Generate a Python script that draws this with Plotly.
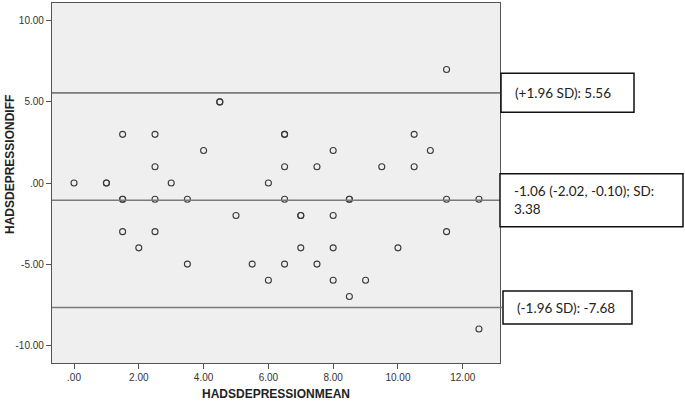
import plotly.graph_objects as go

# Bland-Altman data
mean_vals = [0, 1, 1, 1.5, 1.5, 1.5, 1.5, 2, 2.5, 2.5, 2.5, 2.5, 3, 3.5, 3.5, 4,
             4.5, 4.5, 5, 5.5, 6, 6, 6.5, 6.5, 6.5, 6.5, 6.5, 7, 7, 7, 7.5, 7.5,
             8, 8, 8, 8, 8.5, 8.5, 8.5, 9, 9.5, 10, 10.5, 10.5, 11, 11.5, 11.5,
             11.5, 12.5, 12.5]
diff_vals = [0, 0, 0, 3, -1, -1, -3, -4, 3, 1, -1, -3, 0, -1, -5, 2,
             5, 5, -2, -5, 0, -6, 3, 3, 1, -1, -5, -2, -2, -4, 1, -5,
             2, -2, -4, -6, -1, -1, -7, -6, 1, -4, 3, 1, 2, 7, -1,
             -3, -1, -9]

upper_loa = 5.56
mean_diff = -1.06
lower_loa = -7.68
line_labels = ["(+1.96 SD): 5.56", "-1.06 (-2.02, -0.10); SD:<br>3.38", "(-1.96 SD): -7.68"]
line_values = [upper_loa, mean_diff, lower_loa]

x_ticks = [0, 2, 4, 6, 8, 10, 12]
x_ticktext = [".00", "2.00", "4.00", "6.00", "8.00", "10.00", "12.00"]
y_ticks = [-10, -5, 0, 5, 10]
y_ticktext = ["-10.00", "-5.00", ".00", "5.00", "10.00"]

fig = go.Figure()
fig.add_trace(go.Scatter(
    x=mean_vals, y=diff_vals, mode="markers",
    marker=dict(symbol="circle-open", size=6, color="#3a3a3a", line=dict(width=1.1, color="#3a3a3a")),
    showlegend=False, hoverinfo="x+y",
))

# box geometry (pixel sizes) per label
box_w = [133, 183, 129]
box_h = [39, 53, 33]
box_x0 = [1, 0, 3]
for val, lab, w, h, x0 in zip(line_values, line_labels, box_w, box_h, box_x0):
    fig.add_shape(type="line", xref="paper", yref="y", x0=0, x1=1.005, y0=val, y1=val,
                  line=dict(color="#7a7a7a", width=1.6), layer="above")
    fig.add_shape(type="rect", xref="paper", yref="y", xsizemode="pixel", ysizemode="pixel",
                  xanchor=1, yanchor=val, x0=x0, x1=x0 + w, y0=-h / 2, y1=h / 2,
                  line=dict(color="#111111", width=1.5), fillcolor="white", layer="above")
    fig.add_annotation(xref="paper", yref="y", x=1, y=val, xanchor="left", yanchor="middle",
                       xshift=x0 + 12, text=lab, showarrow=False, align="left",
                       font=dict(family="Lato, Liberation Sans, sans-serif", size=13.5, color="#222222"))

# y-axis title as annotation to match its offset position
fig.add_annotation(xref="paper", yref="paper", x=0, y=0.55, xshift=-42, xanchor="center", yanchor="middle",
                   text="<b>HADSDEPRESSIONDIFF</b>", textangle=-90, showarrow=False,
                   font=dict(family="Liberation Sans, Arial, sans-serif", size=12, color="#222222"))

fig.update_layout(
    width=685, height=401,
    margin=dict(l=52, r=185, t=2, b=37),
    paper_bgcolor="white", plot_bgcolor="#efefef",
    font=dict(family="Liberation Sans, Arial, sans-serif", size=10, color="#333333"),
    xaxis=dict(range=[-0.68, 13.15], tickvals=x_ticks, ticktext=x_ticktext, showgrid=False,
               zeroline=False, showline=True, linecolor="#555555", linewidth=1.2, mirror=True,
               ticks="outside", ticklen=5, tickcolor="#555555",
               title=dict(text="<b>HADSDEPRESSIONMEAN</b>", standoff=8,
                          font=dict(size=12, color="#222222"))),
    yaxis=dict(range=[-11.1, 11.1], tickvals=y_ticks, ticktext=y_ticktext, showgrid=False,
               zeroline=False, showline=True, linecolor="#555555", linewidth=1.2, mirror=True,
               ticks="outside", ticklen=5, tickcolor="#555555"),
)

fig.write_html("out.html", config={"displayModeBar": False},
               post_script="document.body.style.margin='0px';document.body.style.padding='0px';")
